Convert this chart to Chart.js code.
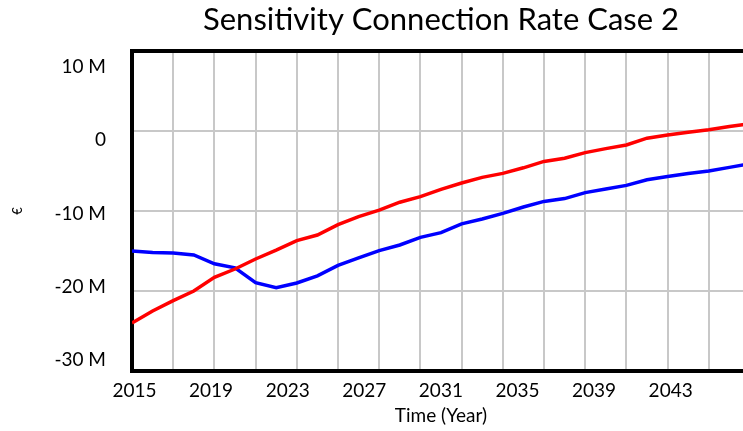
<!DOCTYPE html>
<html>
<head>
<meta charset="utf-8">
<script src="https://cdn.jsdelivr.net/npm/chart.js@4/dist/chart.umd.min.js"></script>
<style>
  html, body { margin: 0; padding: 0; overflow: hidden; background: #fff; }
  #wrap { width: 750px; height: 431px; }
</style>
</head>
<body>
<div id="wrap"><canvas id="c" width="750" height="431"></canvas></div>
<script>
// ---- data (values in millions of €) ----
const years = [2015,2016,2017,2018,2019,2020,2021,2022,2023,2024,2025,2026,2027,2028,2029,2030,
               2031,2032,2033,2034,2035,2036,2037,2038,2039,2040,2041,2042,2043,2044,2045];
const redSeries = [-24.0,-22.5,-21.2,-20.0,-18.3,-17.25,-16.0,-14.9,-13.7,-13.0,-11.7,-10.7,-9.9,-8.9,-8.2,-7.3,
                   -6.5,-5.8,-5.3,-4.6,-3.8,-3.4,-2.7,-2.2,-1.75,-0.9,-0.5,-0.15,0.15,0.55,0.9];
const blueSeries = [-15.0,-15.2,-15.25,-15.5,-16.6,-17.1,-18.95,-19.6,-19.0,-18.1,-16.8,-15.85,-14.95,-14.25,-13.3,-12.7,
                    -11.6,-11.0,-10.3,-9.5,-8.8,-8.45,-7.7,-7.25,-6.8,-6.1,-5.7,-5.3,-5.0,-4.55,-4.1];
const xTickValues = [2015,2019,2023,2027,2031,2035,2039,2043];
const yTickValues = [-30,-20,-10,0,10];
const yTickText = ['-30 M','-20 M','-10 M','0','10 M'];

const GRID = 'rgb(200,200,200)';
const FONT = 'Lato';

const toPoints = (vals) => years.map((yr, i) => ({ x: yr, y: vals[i] }));

new Chart(document.getElementById('c').getContext('2d'), {
  type: 'line',
  data: {
    datasets: [
      { label: 'Case 2 (red)', data: toPoints(redSeries), borderColor: '#ff0000', borderWidth: 3.5,
        pointRadius: 0, tension: 0, fill: false },
      { label: 'Case 2 (blue)', data: toPoints(blueSeries), borderColor: '#0000ff', borderWidth: 3.5,
        pointRadius: 0, tension: 0, fill: false }
    ]
  },
  options: {
    responsive: false,
    animation: false,
    devicePixelRatio: 1,
    layout: { padding: 0 },
    plugins: {
      legend: { display: false },
      tooltip: { enabled: false },
      title: {
        display: true, text: 'Sensitivity Connection Rate Case 2', fullSize: false,
        color: '#000', font: { family: FONT, size: 31, weight: 'normal' },
        padding: { top: 1.5, bottom: 12.3 }
      }
    },
    scales: {
      x: {
        type: 'linear', position: 'bottom', min: 2015, max: 2045,
        ticks: { display: false, stepSize: 2 },
        grid: { color: GRID, lineWidth: 2, drawTicks: false },
        border: { display: true, color: '#000', width: 4 },
        afterFit(s) { s.height = 0; }
      },
      y: {
        type: 'linear', position: 'left', min: -30, max: 10,
        ticks: { display: false, stepSize: 10 },
        grid: { color: GRID, lineWidth: 2, drawTicks: false },
        border: { display: true, color: '#000', width: 4 },
        afterFit(s) { s.width = 0; }
      },
      xt: {
        type: 'linear', position: 'top', min: 2015, max: 2045,
        ticks: { display: false },
        grid: { display: false, drawTicks: false },
        border: { display: true, color: '#000', width: 4 },
        afterFit(s) { s.height = 0; }
      },
      xl: {
        type: 'linear', position: 'bottom', min: 2014.869, max: 2047.144,
        afterBuildTicks(s) { s.ticks = xTickValues.map(v => ({ value: v })); },
        ticks: { autoSkip: false, maxRotation: 0, padding: 8.5, color: '#000',
                 font: { family: FONT, size: 19 }, callback: (v) => String(v) },
        grid: { display: false, drawTicks: false },
        border: { display: false },
        title: { display: true, text: 'Time (Year)', color: '#000',
                 font: { family: FONT, size: 19 }, padding: { top: 0, bottom: 3.5 } },
        afterFit(s) { s.height = 60; }
      },
      yl: {
        type: 'linear', position: 'left', min: -31.502, max: 12.184,
        afterBuildTicks(s) { s.ticks = yTickValues.map(v => ({ value: v })); },
        ticks: { autoSkip: false, padding: 26, color: '#000',
                 font: { family: FONT, size: 19 },
                 callback: (v) => yTickText[yTickValues.indexOf(v)] },
        grid: { display: false, drawTicks: false },
        border: { display: false },
        title: { display: true, text: '€', color: '#000',
                 font: { family: FONT, size: 13 }, padding: { top: 10, bottom: 0 } },
        afterFit(s) { s.width = 132; }
      }
    }
  }
});
</script>
</body>
</html>
